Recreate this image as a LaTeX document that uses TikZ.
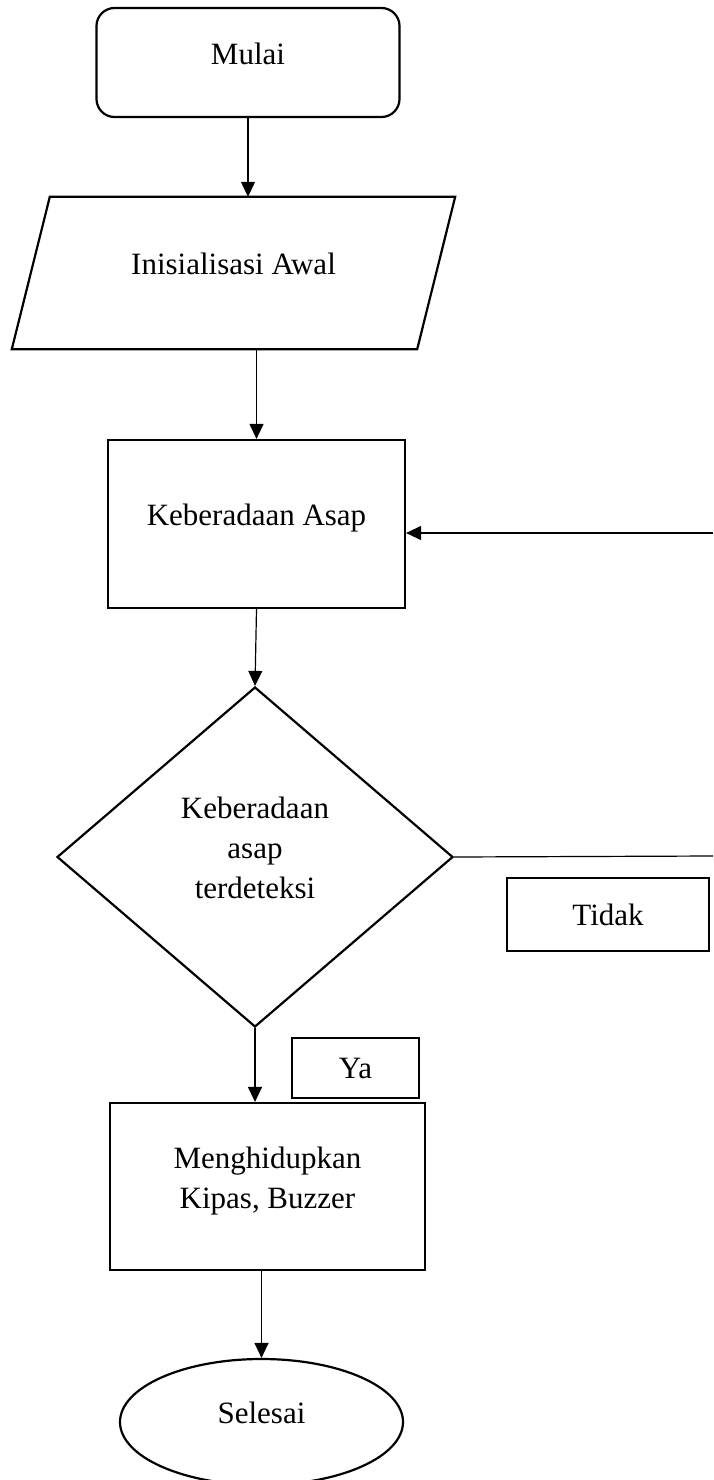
\documentclass[tikz,border=0pt]{standalone}
\usepackage{fontspec}
\setmainfont{Liberation Serif}
\usetikzlibrary{shapes.geometric,arrows.meta}
\newcommand{\boxtext}[1]{\raisebox{0pt}[0pt][0pt]{\begin{tabular}{@{}c@{}}#1\end{tabular}}}

\begin{document}
\begin{tikzpicture}[x=1pt,y=-1pt,
    font=\fontsize{31}{40}\selectfont,
    outline/.style={draw,line width=2.2pt,inner sep=0pt},
    startstop/.style={outline,rectangle,rounded corners=18pt},
    inout/.style={rectangle,inner sep=0pt},
    process/.style={outline,rectangle},
    decision/.style={outline,diamond},
    endnode/.style={outline,ellipse},
    answer/.style={draw,line width=2pt,rectangle,inner sep=0pt}]
  \useasboundingbox (0,0) rectangle (713,1480);
  \draw
    (248,62.5) node[startstop,minimum width=303pt,minimum height=109pt] (mulai){\boxtext{Mulai}}
    (233.5,273) node[inout,minimum width=405pt,minimum height=152pt] (init){\boxtext{Inisialisasi Awal}}
    (256.5,524) node[process,minimum width=297pt,minimum height=168pt] (asap){\boxtext{Keberadaan Asap}}
    (255,857) node[decision,minimum width=396pt,minimum height=340pt] (cek){\boxtext{Keberadaan\\asap\\terdeteksi}}
    (608,914.5) node[answer,minimum width=202pt,minimum height=73pt] (tidak){Tidak}
    (355.5,1068) node[answer,minimum width=127pt,minimum height=60pt] (ya){Ya}
    (267.5,1186.5) node[process,minimum width=315pt,minimum height=167pt] (kipas){\boxtext{Menghidupkan\\Kipas, Buzzer}}
    (261.5,1422) node[endnode,minimum width=283pt,minimum height=126pt] (selesai){\boxtext{Selesai}};
  % jajar genjang untuk input
  \draw[outline] ([xshift=19pt]init.north west) -- ([xshift=19pt]init.north east)
    -- ([xshift=-19pt]init.south east) -- ([xshift=-19pt]init.south west) -- cycle;
  \coordinate (balik) at (713,533);
  \coordinate (tidakout) at (713,856);
  \begin{scope}[-{Triangle[width=14pt,length=15pt]},line width=1.2pt]
    \draw (mulai.south) to (mulai.south |- init.north);
    \draw (asap.north |- init.south) to (asap.north);
    \draw (balik) to (balik -| asap.east);
    \draw (asap.south) to (cek.north);
    \draw[-] (cek.east) to (tidakout);
    \draw (cek.south) to (cek.south |- kipas.north);
    \draw (kipas.south -| selesai.north) to (selesai.north);
  \end{scope}
\end{tikzpicture}
\end{document}
